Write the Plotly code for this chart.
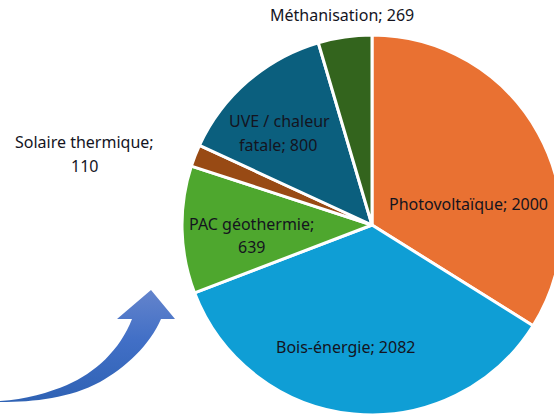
import base64
import plotly.graph_objects as go

categories = ["Photovoltaïque", "Bois-énergie", "PAC géothermie", "Solaire thermique", "UVE / chaleur fatale", "Méthanisation"]
values = [2000, 2082, 639, 110, 800, 269]
colors = ["#E97132", "#0F9ED5", "#4EA72E", "#984A14", "#0B5F7E", "#33641D"]

W, H = 600, 430
CX, CY, R = 372, 225, 190

label_lines = [
    ("Méthanisation; 269", 342, 15),
    ("Solaire thermique;", 84, 142),
    ("110", 84, 166),
    ("UVE / chaleur", 279, 121),
    ("fatale; 800", 278, 145),
    ("Photovoltaïque; 2000", 468, 204),
    ("Bois-énergie; 2082", 345, 347),
    ("PAC géothermie;", 251, 224),
    ("639", 251, 247),
]

fig = go.Figure(go.Pie(
    labels=categories, values=values, sort=False, direction="clockwise", rotation=0,
    marker=dict(colors=colors, line=dict(color="white", width=3)),
    textinfo="none", hoverinfo="label+value",
    domain=dict(x=[(CX - R) / W, (CX + R) / W], y=[1 - (CY + R) / H, 1 - (CY - R) / H]),
))

for text, x, y in label_lines:
    fig.add_annotation(text=text, x=x / W, y=1 - y / H, xref="paper", yref="paper",
                       xanchor="center", yanchor="middle", showarrow=False,
                       font=dict(family="Noto Sans", size=16, color="#14141e"))

svg = """<svg xmlns="http://www.w3.org/2000/svg" width="180" height="120" viewBox="0 285 180 120">
<defs><linearGradient id="g" x1="0" y1="0" x2="0" y2="1">
<stop offset="0" stop-color="#6484CC"/><stop offset="0.45" stop-color="#416FC6"/><stop offset="1" stop-color="#2F62B4"/>
</linearGradient></defs>
<path fill="url(#g)" d="M151 290 L175 319 L161 319 C150 345 125 368 100 382 C70 398 35 402 0 402 L0 401 C25 400 50 392 67 385 C95 373 120 350 132 319 L117 319 Z"/>
</svg>"""
uri = "data:image/svg+xml;base64," + base64.b64encode(svg.encode()).decode()
fig.add_layout_image(source=uri, xref="paper", yref="paper", x=0, y=1 - 285 / H,
                     sizex=180 / W, sizey=120 / H, sizing="stretch",
                     xanchor="left", yanchor="top", layer="above")

fig.update_layout(width=W, height=H, autosize=False, showlegend=False,
                  margin=dict(l=0, r=0, t=0, b=0), paper_bgcolor="white")

fig.write_html("out.html", config={"displayModeBar": False},
               post_script="document.body.style.margin='0';document.documentElement.style.overflow='hidden';document.body.style.overflow='hidden';")
